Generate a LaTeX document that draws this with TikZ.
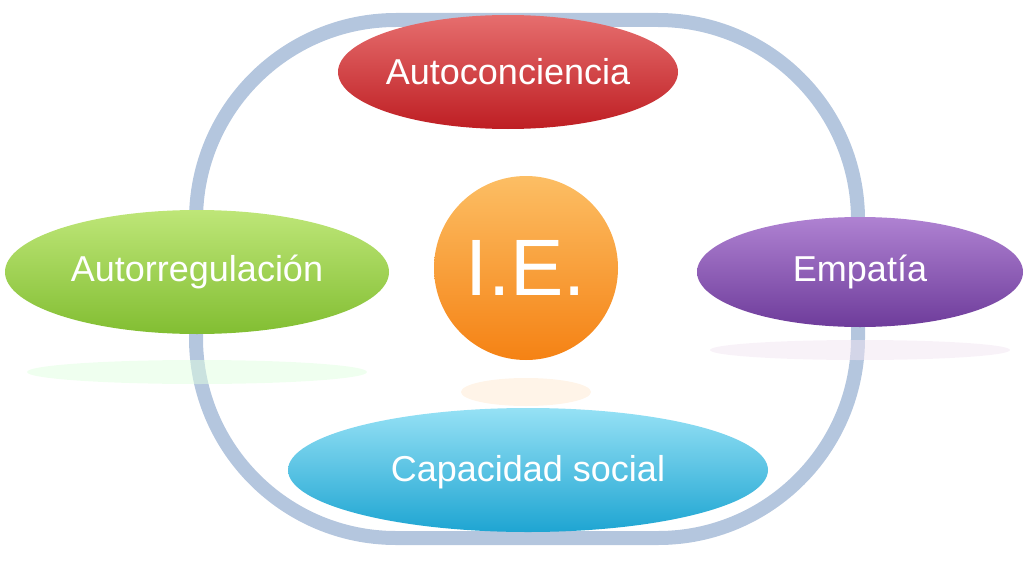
\documentclass[tikz,border=0pt]{standalone}
\usepackage{fontspec}
\setmainfont{Liberation Sans}
\usetikzlibrary{shapes.geometric}
\begin{document}
\begin{tikzpicture}[x=1pt,y=-1pt,
  blob/.style={ellipse, draw=none, text=white, font=\fontsize{36}{42}\selectfont, inner sep=0pt},
]
\useasboundingbox (0,0) rectangle (1024,567);
% ring
\draw[line width=14pt, draw={rgb,255:red,180;green,198;blue,222}, rounded corners=200pt] (196,20) rectangle (858,538);
% reflections
\fill[green!12, opacity=0.5] (197,372) ellipse (170 and 12);
\fill[violet!10, opacity=0.5] (860,350) ellipse (150 and 10);
\fill[orange!15, opacity=0.6] (526,392) ellipse (65 and 14);
% shapes
\shade[top color={rgb,255:red,230;green,110;blue,110}, bottom color={rgb,255:red,190;green,30;blue,35}] (508,72) ellipse (170 and 57);
\node[blob] (a) at (508,72) {Autoconciencia};
\shade[top color={rgb,255:red,190;green,230;blue,120}, bottom color={rgb,255:red,130;green,190;blue,50}] (197,272) ellipse (192 and 62);
\node[blob] (b) at (197,272) {Autorregulación};
\shade[top color={rgb,255:red,175;green,130;blue,210}, bottom color={rgb,255:red,110;green,60;blue,155}] (860,272) ellipse (163 and 55);
\node[blob] (c) at (860,272) {Empatía};
\shade[top color={rgb,255:red,150;green,225;blue,245}, bottom color={rgb,255:red,30;green,165;blue,210}] (528,470) ellipse (240 and 62);
\node[blob] (d) at (528,472) {Capacidad social};
\shade[top color={rgb,255:red,252;green,190;blue,100}, bottom color={rgb,255:red,245;green,130;blue,20}] (526,268) circle (92);
\node[blob, font=\fontsize{80}{88}\selectfont] (e) at (526,268) {I.E.};
\end{tikzpicture}
\end{document}
